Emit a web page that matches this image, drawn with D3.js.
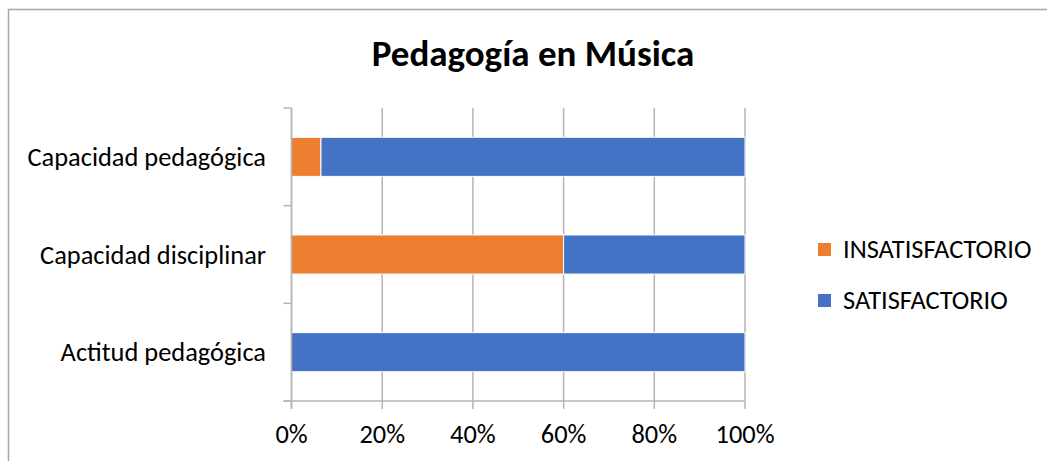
<!DOCTYPE html>
<html>
<head>
<meta charset="utf-8">
<script src="https://cdn.jsdelivr.net/npm/d3@7"></script>
<style>
  body { margin: 0; background: #fff; }
  text { font-family: Carlito, Calibri, Lato, sans-serif; fill: #000; }
</style>
</head>
<body>
<svg id="chart" width="1047" height="461"></svg>
<script>
// DATA
var categories = ["Capacidad pedagógica", "Capacidad disciplinar", "Actitud pedagógica"];
var insatisfactorio = [6.5, 60, 0];
var satisfactorio = [93.5, 40, 100];
var seriesNames = ["INSATISFACTORIO", "SATISFACTORIO"];
var xTicks = [0, 20, 40, 60, 80, 100];

// COLORS
var colors = {"INSATISFACTORIO": "#ED7D31", "SATISFACTORIO": "#4472C4"};
var gridColor = "#b4b4b4";

// SIZES
var width = 1047, height = 461;
var plotLeft = 291.5, plotRight = 745;
var plotTop = 108, plotBottom = 401;
var tickLen = 8;
var labelFontSize = 26.4;
var titleFontSize = 37;

var svg = d3.select("#chart");

// outer border (chart area runs off the picture at right and bottom)
svg.append("rect")
  .attr("x", 8.5).attr("y", 9.5)
  .attr("width", width + 20).attr("height", height + 20)
  .attr("fill", "none")
  .attr("stroke", "#a6a6a6")
  .attr("stroke-width", 1.5);

// title
svg.append("text")
  .text("Pedagogía en Música")
  .attr("x", 533).attr("y", 66)
  .attr("text-anchor", "middle")
  .attr("font-weight", "bold")
  .attr("font-size", titleFontSize);

var rows = categories.map(function(c, i) {
  return {cat: c, INSATISFACTORIO: insatisfactorio[i], SATISFACTORIO: satisfactorio[i]};
});

var x = d3.scaleLinear().domain([0, 100]).range([plotLeft, plotRight]);
var y = d3.scaleBand().domain(categories).range([plotTop, plotBottom]).paddingInner(0.6).paddingOuter(0.3);
var yBands = d3.scaleBand().domain(categories).range([plotTop, plotBottom]);

// vertical gridlines, running a bit below the axis
svg.append("g")
  .selectAll("line")
  .data(xTicks)
  .enter()
  .append("line")
  .attr("x1", d => x(d)).attr("x2", d => x(d))
  .attr("y1", plotTop).attr("y2", plotBottom + tickLen)
  .attr("stroke", gridColor)
  .attr("stroke-width", 1.5);

// bottom axis line
svg.append("line")
  .attr("x1", plotLeft - tickLen).attr("x2", plotRight)
  .attr("y1", plotBottom).attr("y2", plotBottom)
  .attr("stroke", gridColor)
  .attr("stroke-width", 1.5);

// left axis ticks at band boundaries
var boundaries = categories.map(c => yBands(c)).concat([plotBottom]);
svg.append("g")
  .selectAll("line")
  .data(boundaries)
  .enter()
  .append("line")
  .attr("x1", plotLeft - tickLen).attr("x2", plotLeft)
  .attr("y1", d => d).attr("y2", d => d)
  .attr("stroke", gridColor)
  .attr("stroke-width", 1.5);

// stacked bars
var stack = d3.stack().keys(seriesNames);
var stacked = stack(rows);

svg.append("g")
  .selectAll("g")
  .data(stacked)
  .enter()
  .append("g")
  .attr("fill", d => colors[d.key])
  .selectAll("rect")
  .data(d => d)
  .enter()
  .append("rect")
  .filter(d => d[1] - d[0] > 0)
  .attr("x", d => x(d[0]))
  .attr("width", d => x(d[1]) - x(d[0]))
  .attr("y", d => y(d.data.cat))
  .attr("height", y.bandwidth())
  .attr("stroke", "#fff")
  .attr("stroke-width", 1);

// y axis line drawn over bars
svg.append("line")
  .attr("x1", plotLeft).attr("x2", plotLeft)
  .attr("y1", plotTop).attr("y2", plotBottom + tickLen)
  .attr("stroke", gridColor)
  .attr("stroke-width", 1.5);

// category labels
svg.append("g")
  .selectAll("text")
  .data(categories)
  .enter()
  .append("text")
  .text(d => d)
  .attr("x", 266)
  .attr("y", d => yBands(d) + yBands.bandwidth() / 2 + 9)
  .attr("text-anchor", "end")
  .attr("font-size", labelFontSize);

// x tick labels
svg.append("g")
  .selectAll("text")
  .data(xTicks)
  .enter()
  .append("text")
  .text(d => d + "%")
  .attr("x", d => x(d))
  .attr("y", 443)
  .attr("text-anchor", "middle")
  .attr("font-size", labelFontSize);

// legend (Excel lists it top to bottom in series order)
var legend = svg.append("g")
  .selectAll("g")
  .data(seriesNames)
  .enter()
  .append("g")
  .attr("transform", (d, i) => "translate(818," + (243 + i * 51) + ")");

legend.append("rect")
  .attr("width", 13).attr("height", 13)
  .attr("fill", d => colors[d]);

legend.append("text")
  .text(d => d)
  .attr("x", 25)
  .attr("y", 15)
  .attr("font-size", labelFontSize);
</script>
</body>
</html>
